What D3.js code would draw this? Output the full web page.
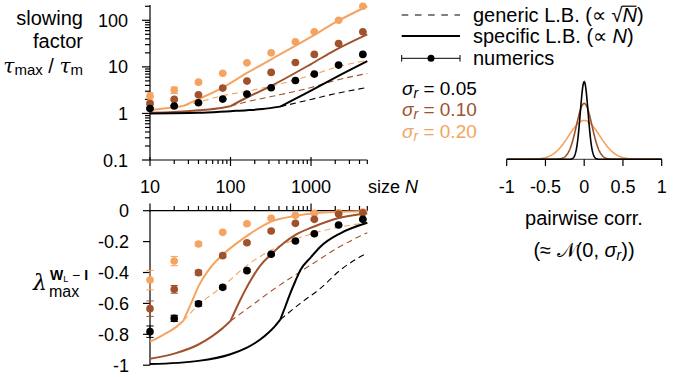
<!DOCTYPE html>
<html>
<head>
<meta charset="utf-8">
<script src="https://cdn.jsdelivr.net/npm/d3@7"></script>
<style>
  body { margin: 0; background: #fff; }
  svg { display: block; font-family: "Liberation Sans", Arial, Helvetica, sans-serif; }
</style>
</head>
<body>
<div id="chart"></div>
<script>
// system sizes of the numerics
const sizes = [10, 20, 40, 80, 160, 320, 640, 1100, 2200, 4400];
const sigmaLabels = ['0.05', '0.10', '0.20'];
const sigmas = [0.05, 0.10, 0.20];
const colors = ['#000000', '#a0522d', '#f4a460'];

// slowing factor tau_max / tau_m (numerics)
const slowBlack = [1.28, 1.44, 1.69, 2.03, 2.6, 3.55, 5.1, 7.0, 10.9, 18.5];
const slowBrown = [1.64, 2.0, 2.51, 3.5, 4.94, 7.6, 12.4, 18.5, 31.6, 56.5];
const slowOrange = [2.35, 3.17, 4.7, 7.3, 12.2, 20, 34.5, 56.5, 100, 200];
const slowErrBlack = [0.06, 0.05, 0.05, 0.05, 0.06, 0.08, 0.1, 0.15, 0.25, 0.4];
const slowErrBrown = [0.1, 0.1, 0.1, 0.1, 0.15, 0.2, 0.3, 0.4, 0.7, 1.2];
const slowErrOrange = [0.42, 0.5, 0.3, 0.3, 0.4, 0.5, 0.8, 1.2, 2, 4];

// slowing factor, lower bounds
const slowSpecNBlack = [10, 40, 100, 160, 250, 415, 1000, 2000, 5000];
const slowSpecBlack = [1.0, 1.03, 1.12, 1.17, 1.24, 1.4, 3.1, 5.9, 13.3];
const slowGenNBlack = [415, 1000, 2000, 5000];
const slowGenBlack = [1.4, 2.0, 2.65, 3.6];
const slowSpecNBrown = [10, 20, 40, 80, 100, 160, 320, 1000, 2000, 5000];
const slowSpecBrown = [1.04, 1.08, 1.17, 1.33, 1.43, 2.2, 3.9, 11.5, 23, 50];
const slowGenNBrown = [100, 160, 320, 1000, 2000, 5000];
const slowGenBrown = [1.43, 1.78, 2.3, 3.6, 5.1, 7.2];
const slowSpecNOrange = [10, 20, 26, 40, 80, 160, 320, 1000, 2000, 5000];
const slowSpecOrange = [1.18, 1.35, 1.45, 2.03, 3.6, 7.4, 14.5, 44, 90, 200];
const slowGenNOrange = [26, 40, 80, 160, 320, 1000, 2150, 5000];
const slowGenOrange = [1.45, 1.75, 2.4, 3.0, 3.85, 6.6, 10, 13.9];

// lambda_max of W_L - I (numerics)
const lamBlack = [-0.783, -0.697, -0.602, -0.496, -0.388, -0.282, -0.196, -0.149, -0.093, -0.056];
const lamBrown = [-0.634, -0.509, -0.401, -0.291, -0.207, -0.131, -0.082, -0.056, -0.021, -0.013];
const lamOrange = [-0.449, -0.326, -0.216, -0.14, -0.084, -0.049, -0.03, -0.017, -0.013, -0.008];
const lamErrBlack = [0.037, 0.02, 0.015, 0.01, 0.008, 0.006, 0.005, 0.005, 0.004, 0.004];
const lamErrBrown = [0.05, 0.025, 0.015, 0.01, 0.008, 0.006, 0.005, 0.005, 0.004, 0.004];
const lamErrOrange = [0.063, 0.03, 0.012, 0.008, 0.006, 0.005, 0.004, 0.004, 0.004, 0.004];

// lambda, lower bounds
const lamSpecNBlack = [10, 40, 100, 160, 200, 234, 300, 350, 415, 480, 552, 640, 736, 1000, 1306, 2317, 5000];
const lamSpecBlack = [-0.993, -0.972, -0.929, -0.886, -0.858, -0.834, -0.787, -0.752, -0.705, -0.62, -0.535, -0.455, -0.385, -0.3, -0.233, -0.146, -0.078];
const lamGenNBlack = [415, 736, 1306, 2317, 5000];
const lamGenBlack = [-0.705, -0.6, -0.503, -0.384, -0.272];
const lamSpecNBrown = [10, 20, 40, 60, 80, 100, 132, 176, 234, 320, 640, 1075, 2150, 5000];
const lamSpecBrown = [-0.958, -0.925, -0.866, -0.81, -0.76, -0.714, -0.578, -0.455, -0.355, -0.282, -0.157, -0.104, -0.049, -0.017];
const lamGenNBrown = [100, 176, 320, 640, 1075, 2150, 5000];
const lamGenBrown = [-0.714, -0.62, -0.52, -0.415, -0.34, -0.24, -0.142];
const lamSpecNOrange = [10, 15, 20, 26, 33, 40, 56, 80, 120, 176, 320, 640, 1075, 5000];
const lamSpecOrange = [-0.848, -0.8, -0.762, -0.712, -0.59, -0.49, -0.37, -0.285, -0.21, -0.148, -0.071, -0.034, -0.017, -0.002];
const lamGenNOrange = [26, 40, 80, 160, 320, 640, 1075, 2150, 5000];
const lamGenOrange = [-0.712, -0.61, -0.49, -0.355, -0.255, -0.185, -0.146, -0.108, -0.078];

// inset: relative peak heights of the correlation distributions
const insetPeak = [1.0, 0.72, 0.5];

const xTicks = [10, 100, 1000];
const slowTicks = [0.1, 1, 10, 100];
const lamTicks = [0, -0.2, -0.4, -0.6, -0.8, -1];
const insetTicks = [-1, -0.5, 0, 0.5, 1];

const series = [
  { color: colors[2], slow: slowOrange, slowErr: slowErrOrange, lam: lamOrange, lamErr: lamErrOrange,
    sSpecN: slowSpecNOrange, sSpec: slowSpecOrange, sGenN: slowGenNOrange, sGen: slowGenOrange,
    lSpecN: lamSpecNOrange, lSpec: lamSpecOrange, lGenN: lamGenNOrange, lGen: lamGenOrange },
  { color: colors[1], slow: slowBrown, slowErr: slowErrBrown, lam: lamBrown, lamErr: lamErrBrown,
    sSpecN: slowSpecNBrown, sSpec: slowSpecBrown, sGenN: slowGenNBrown, sGen: slowGenBrown,
    lSpecN: lamSpecNBrown, lSpec: lamSpecBrown, lGenN: lamGenNBrown, lGen: lamGenBrown },
  { color: colors[0], slow: slowBlack, slowErr: slowErrBlack, lam: lamBlack, lamErr: lamErrBlack,
    sSpecN: slowSpecNBlack, sSpec: slowSpecBlack, sGenN: slowGenNBlack, sGen: slowGenBlack,
    lSpecN: lamSpecNBlack, lSpec: lamSpecBlack, lGenN: lamGenNBlack, lGen: lamGenBlack }
];

const W = 693, H = 377;
const svg = d3.select('#chart').append('svg').attr('width', W).attr('height', H);

const x = d3.scaleLog().domain([10, 5000]).range([150, 367.3]);
const ySlow = d3.scaleLog().domain([0.1, 213]).range([160, 5]);
const yLam = d3.scaleLinear().domain([-1, 0]).range([365.2, 210.7]);

const minorX = [];
[10, 100, 1000].forEach(d => { for (let k = 2; k <= 9; k++) if (d * k <= 5000) minorX.push(d * k); });
const minorY = [];
[0.1, 1, 10, 100].forEach(d => { for (let k = 2; k <= 9; k++) if (d * k <= 213) minorY.push(d * k); });

const axisG = svg.append('g').attr('stroke', '#000').attr('stroke-width', 1.2).attr('fill', 'none');

// top panel axes
axisG.append('line').attr('x1', x(10)).attr('x2', x(5000)).attr('y1', 160).attr('y2', 160);
axisG.append('line').attr('x1', 150).attr('x2', 150).attr('y1', 5).attr('y2', 160);
minorX.forEach(d => axisG.append('line').attr('x1', x(d)).attr('x2', x(d)).attr('y1', 160).attr('y2', 164));
xTicks.forEach(d => axisG.append('line').attr('x1', x(d)).attr('x2', x(d)).attr('y1', 157).attr('y2', 166));
minorY.forEach(d => axisG.append('line').attr('x1', 145).attr('x2', 150).attr('y1', ySlow(d)).attr('y2', ySlow(d)));
slowTicks.forEach(d => axisG.append('line').attr('x1', 142).attr('x2', 150).attr('y1', ySlow(d)).attr('y2', ySlow(d)));

// bottom panel axes
axisG.append('line').attr('x1', x(10)).attr('x2', x(5000)).attr('y1', 210.7).attr('y2', 210.7);
axisG.append('line').attr('x1', 150).attr('x2', 150).attr('y1', 210.7).attr('y2', 365.2);
minorX.forEach(d => axisG.append('line').attr('x1', x(d)).attr('x2', x(d)).attr('y1', 206).attr('y2', 210.7));
xTicks.forEach(d => axisG.append('line').attr('x1', x(d)).attr('x2', x(d)).attr('y1', 203.5).attr('y2', 211.5));
lamTicks.forEach(d => axisG.append('line').attr('x1', 143).attr('x2', 150).attr('y1', yLam(d)).attr('y2', yLam(d)));

// tick labels
const tickFont = 18;
xTicks.forEach(d => svg.append('text').attr('x', x(d)).attr('y', 193.3).attr('text-anchor', 'middle')
  .attr('font-size', tickFont).text(d));
const sizeLbl = svg.append('text').attr('x', 368).attr('y', 193.3).attr('font-size', tickFont);
sizeLbl.append('tspan').text('size ');
sizeLbl.append('tspan').attr('font-style', 'italic').text('N');

slowTicks.forEach(d => svg.append('text').attr('x', 128).attr('y', ySlow(d) + 6.5).attr('text-anchor', 'end')
  .attr('font-size', tickFont).text(d));
lamTicks.forEach(d => svg.append('text').attr('x', 129).attr('y', yLam(d) + 6.5).attr('text-anchor', 'end')
  .attr('font-size', tickFont).text(d === 0 ? '0' : d));

// axis titles
svg.append('text').attr('x', 83).attr('y', 25).attr('text-anchor', 'end').attr('font-size', 20).text('slowing');
svg.append('text').attr('x', 83).attr('y', 48).attr('text-anchor', 'end').attr('font-size', 20).text('factor');
const tau = svg.append('text').attr('x', 83).attr('y', 73).attr('text-anchor', 'end').attr('font-size', 20);
tau.append('tspan').attr('font-style', 'italic').attr('font-family', 'DejaVu Serif, serif').text('τ');
tau.append('tspan').attr('font-size', 15).attr('dy', 2).text('max');
tau.append('tspan').attr('dy', -2).text(' / ');
tau.append('tspan').attr('font-style', 'italic').attr('font-family', 'DejaVu Serif, serif').text('τ');
tau.append('tspan').attr('font-size', 15).attr('dy', 2).text('m');

const lam = svg.append('g');
lam.append('text').attr('x', 33).attr('y', 290).attr('font-size', 22).attr('font-style', 'italic')
  .attr('font-family', 'DejaVu Serif, serif').text('λ');
lam.append('text').attr('x', 49).attr('y', 297).attr('font-size', 16).text('max');
const sup = lam.append('text').attr('x', 50).attr('y', 280).attr('font-size', 14).attr('font-weight', 'bold');
sup.append('tspan').text('W');
sup.append('tspan').attr('font-size', 9).attr('font-weight', 'normal').attr('dy', 2).text('L');
sup.append('tspan').attr('dy', -2).attr('font-weight', 'normal').text(' − ');
sup.append('tspan').text('I');

// curves
function drawCurve(g, xs, ys, yScale, color, width, dash) {
  const pts = xs.map((n, i) => [x(n), yScale(ys[i])]);
  g.append('path')
    .attr('d', d3.line().curve(d3.curveMonotoneX)(pts))
    .attr('fill', 'none').attr('stroke', color).attr('stroke-width', width)
    .attr('stroke-dasharray', dash || null);
}
function drawSpec(g, xs, ys, kinkN, yScale, color) {
  const pre = [], post = [];
  xs.forEach((n, i) => {
    if (n <= kinkN) pre.push(i);
    if (n >= kinkN) post.push(i);
  });
  drawCurve(g, pre.map(i => xs[i]), pre.map(i => ys[i]), yScale, color, 2);
  drawCurve(g, post.map(i => xs[i]), post.map(i => ys[i]), yScale, color, 2);
}

const lines = svg.append('g');
series.forEach(s => {
  drawCurve(lines, s.sGenN, s.sGen, ySlow, s.color, 1.1, '6,4');
  drawCurve(lines, s.lGenN, s.lGen, yLam, s.color, 1.1, '6,4');
});
series.forEach(s => {
  drawSpec(lines, s.sSpecN, s.sSpec, s.sGenN[0], ySlow, s.color);
  drawSpec(lines, s.lSpecN, s.lSpec, s.lGenN[0], yLam, s.color);
});

// numerics with error bars
function drawPoints(g, vals, errs, yScale, color) {
  vals.forEach((v, i) => {
    const cx = x(sizes[i]);
    const y1 = yScale(v - errs[i]), y2 = yScale(v + errs[i]);
    g.append('line').attr('x1', cx).attr('x2', cx).attr('y1', y1).attr('y2', y2).attr('stroke', color).attr('stroke-width', 1);
    [y1, y2].forEach(yy => g.append('line').attr('x1', cx - 3.7).attr('x2', cx + 3.7).attr('y1', yy).attr('y2', yy)
      .attr('stroke', color).attr('stroke-width', 1));
    g.append('circle').attr('cx', cx).attr('cy', yScale(v)).attr('r', 3.8).attr('fill', color);
  });
}
const pts = svg.append('g');
series.forEach(s => {
  drawPoints(pts, s.slow, s.slowErr, ySlow, s.color);
  drawPoints(pts, s.lam, s.lamErr, yLam, s.color);
});

// legend
const leg = svg.append('g');
leg.append('line').attr('x1', 401.7).attr('x2', 460).attr('y1', 15).attr('y2', 15)
  .attr('stroke', '#000').attr('stroke-width', 1.1).attr('stroke-dasharray', '6.6,6.6');
leg.append('line').attr('x1', 401.7).attr('x2', 460).attr('y1', 36).attr('y2', 36)
  .attr('stroke', '#000').attr('stroke-width', 2);
leg.append('line').attr('x1', 401.7).attr('x2', 460).attr('y1', 58.3).attr('y2', 58.3)
  .attr('stroke', '#000').attr('stroke-width', 1);
[401.7, 460].forEach(xx => leg.append('line').attr('x1', xx).attr('x2', xx).attr('y1', 55).attr('y2', 61.6)
  .attr('stroke', '#000').attr('stroke-width', 1));
leg.append('circle').attr('cx', 431).attr('cy', 58.3).attr('r', 3.5).attr('fill', '#000');

const t1 = leg.append('text').attr('x', 473).attr('y', 22).attr('font-size', 20);
t1.append('tspan').text('generic L.B. (∝ √');
t1.append('tspan').attr('font-style', 'italic').text('N');
t1.append('tspan').text(')');
const t2 = leg.append('text').attr('x', 473).attr('y', 43).attr('font-size', 20);
t2.append('tspan').text('specific L.B. (∝ ');
t2.append('tspan').attr('font-style', 'italic').text('N');
t2.append('tspan').text(')');
leg.append('text').attr('x', 473).attr('y', 64.5).attr('font-size', 20).text('numerics');

// overline of the square root
{
  const node = t1.node();
  const str = node.textContent;
  const iR = str.indexOf('√'), iN = str.indexOf('N');
  const eR = node.getExtentOfChar(iR), eN = node.getExtentOfChar(iN);
  leg.append('line').attr('x1', eR.x + eR.width - 0.5).attr('x2', eN.x + eN.width - 0.5)
    .attr('y1', eR.y + 2.2).attr('y2', eR.y + 2.2).attr('stroke', '#000').attr('stroke-width', 1.2);
}

const sigBase = [95, 115.7, 137.7];
sigmaLabels.forEach((lbl, i) => {
  const t = leg.append('text').attr('x', 402).attr('y', sigBase[i]).attr('font-size', 19).attr('fill', colors[i]);
  t.append('tspan').attr('font-style', 'italic').text('σ');
  t.append('tspan').attr('font-style', 'italic').attr('font-size', 14).attr('dy', 3).text('r');
  t.append('tspan').attr('dy', -3).text(' = ' + lbl);
});

// inset: distribution of pairwise correlations
const xi = d3.scaleLinear().domain([-1, 1]).range([506.7, 661.7]);
const yi = d3.scaleLinear().domain([0, 1]).range([159.3, 81.7]);
const grid = d3.range(-1, 1.0001, 0.005);
const inset = svg.append('g');
[2, 1, 0].forEach(i => {
  const line = d3.line().x(d => xi(d)).y(d => yi(insetPeak[i] * Math.exp(-d * d / (2 * sigmas[i] * sigmas[i]))));
  inset.append('path').attr('d', line(grid)).attr('fill', 'none').attr('stroke', colors[i]).attr('stroke-width', 1.6);
});
inset.append('line').attr('x1', xi(-1)).attr('x2', xi(1)).attr('y1', 159.3).attr('y2', 159.3)
  .attr('stroke', '#000').attr('stroke-width', 0.8);
insetTicks.forEach(d => {
  inset.append('line').attr('x1', xi(d)).attr('x2', xi(d)).attr('y1', 159.3).attr('y2', 166)
    .attr('stroke', '#000').attr('stroke-width', 1.2);
  inset.append('text').attr('x', xi(d)).attr('y', 193.3).attr('text-anchor', 'middle').attr('font-size', tickFont).text(d);
});
inset.append('text').attr('x', 584).attr('y', 225).attr('text-anchor', 'middle').attr('font-size', 20).text('pairwise corr.');
const tn = inset.append('text').attr('x', 584).attr('y', 257).attr('text-anchor', 'middle').attr('font-size', 20);
tn.append('tspan').text('(≈ ');
tn.append('tspan').text('𝒩');
tn.append('tspan').text('(0, ');
tn.append('tspan').attr('font-style', 'italic').text('σ');
tn.append('tspan').attr('font-style', 'italic').attr('font-size', 14).attr('dy', 3).text('r');
tn.append('tspan').attr('dy', -3).text('))');
</script>
</body>
</html>
